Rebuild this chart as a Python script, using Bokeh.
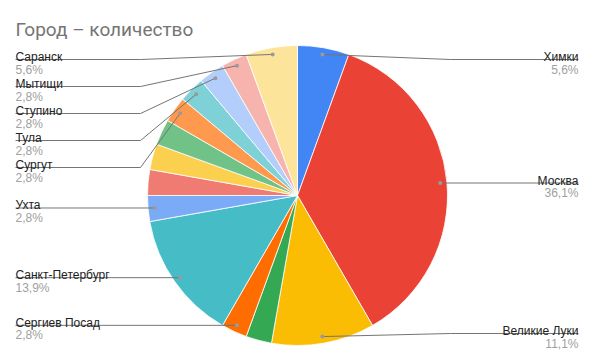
import math
from bokeh.plotting import figure
from bokeh.models import Range1d, ColumnDataSource
from bokeh.core.properties import value
from bokeh.embed import file_html
from bokeh.resources import INLINE

# ---- data (clockwise from 12 o'clock) ----
cities = ["Химки", "Москва", "Великие Луки", "Город 4", "Сергиев Посад",
          "Санкт-Петербург", "Ухта", "Город 8", "Город 9", "Город 10",
          "Сургут", "Тула", "Ступино", "Мытищи", "Саранск"]
counts = [2, 13, 4, 1, 1, 5, 1, 1, 1, 1, 1, 1, 1, 1, 2]
show_label = [1, 1, 1, 0, 1, 1, 1, 0, 0, 0, 1, 1, 1, 1, 1]
colors = ["#4285F4", "#EA4335", "#FBBC04", "#34A853", "#FF6D01",
          "#46BDC6", "#7BAAF7", "#F07B72", "#FCD04F", "#71C287",
          "#FF994D", "#7ED1D7", "#B3CEFB", "#F7B4AE", "#FDE49B"]
title_text = "Город – количество"

# ---- layout (pixel coordinates, y down) ----
W, H = 593, 364
CX, CY, R = 297, 195, 150
DOT_R = 0.955 * R
LEFT_X, RIGHT_X = 15, 578
LEFT_ELBOW, RIGHT_ELBOW = 140, 450
MIN_Y, MAX_Y, GAP = 59, 333, 27


def Y(py):
    return H - py


p = figure(width=W, height=H, x_range=Range1d(0, W), y_range=Range1d(0, H),
           output_backend="svg", toolbar_location=None, min_border=0,
           outline_line_color=None, background_fill_color="white",
           border_fill_color="white")
p.axis.visible = False
p.grid.visible = False

total = sum(counts)
starts, ends, mids = [], [], []
acc = 0
for c in counts:
    t0 = acc / total * 2 * math.pi
    acc += c
    t1 = acc / total * 2 * math.pi
    starts.append(math.pi / 2 - t1)
    ends.append(math.pi / 2 - t0)
    mids.append((t0 + t1) / 2)

src = ColumnDataSource(dict(x=[CX] * len(counts), y=[Y(CY)] * len(counts),
                            s=starts, e=ends, c=colors))
p.wedge(x="x", y="y", radius=R, start_angle="s", end_angle="e",
        fill_color="c", line_color="white", line_width=0.8, source=src)

# labels
items = []
for i, (name, cnt, sh, th) in enumerate(zip(cities, counts, show_label, mids)):
    if not sh:
        continue
    dx = CX + DOT_R * math.sin(th)
    dy = CY - DOT_R * math.cos(th)
    pct = f"{100 * cnt / total:.1f}".replace(".", ",") + "%"
    side = "R" if math.sin(th) > 0 else "L"
    items.append(dict(name=name, pct=pct, dx=dx, dy=dy, side=side))

for side in ("L", "R"):
    grp = sorted([it for it in items if it["side"] == side], key=lambda d: d["dy"])
    prev = -1e9
    for it in grp:
        ly = max(it["dy"], MIN_Y, prev + GAP)
        ly = min(ly, MAX_Y)
        it["ly"] = ly
        prev = ly

line_color = "#757575"
for it in items:
    ly, dx, dy = it["ly"], it["dx"], it["dy"]
    if it["side"] == "L":
        if abs(ly - dy) < 1.5:
            xs, ys = [LEFT_X, dx], [ly, ly]
        else:
            xs, ys = [LEFT_X, LEFT_ELBOW, dx], [ly, ly, dy]
        tx, align = LEFT_X, "left"
    else:
        if abs(ly - dy) < 1.5:
            xs, ys = [RIGHT_X, dx], [ly, ly]
        else:
            xs, ys = [RIGHT_X, RIGHT_ELBOW, dx], [ly, ly, dy]
        tx, align = RIGHT_X, "right"
    p.line(xs, [Y(v) for v in ys], line_color=line_color, line_width=1)
    p.scatter([dx], [Y(dy)], size=4, fill_color="#9a9a9a", line_color=None)
    p.text([tx], [Y(ly - 2.5)], text=[it["name"]], text_align=align,
           text_baseline="alphabetic", text_font=value("Liberation Sans"),
           text_font_size="12px", text_color="#222222")
    p.text([tx], [Y(ly + 3)], text=[it["pct"]], text_align=align,
           text_baseline="top", text_font=value("Liberation Sans"),
           text_font_size="12px", text_color="#a0a0a0")

p.text([15], [Y(29)], text=[title_text], text_align="left",
       text_baseline="alphabetic", text_font=value("Roboto"),
       text_font_size="19px", text_color="#757575")

open("out.html", "w").write(file_html(p, INLINE))
